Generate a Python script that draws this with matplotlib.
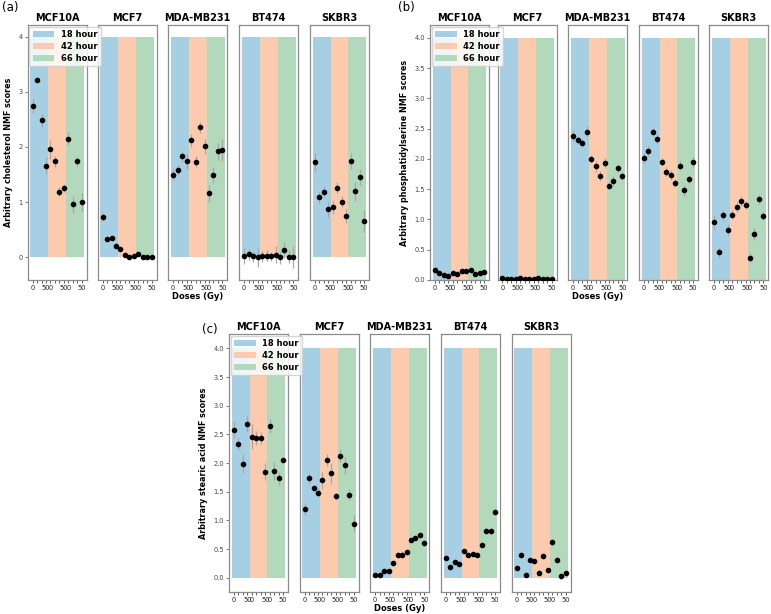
import numpy as np
import matplotlib
matplotlib.use("Agg")
import matplotlib.pyplot as plt

# --- data ---
cell_lines = ["MCF10A", "MCF7", "MDA-MB231", "BT474", "SKBR3"]
time_labels = ["18 hour", "42 hour", "66 hour"]
dose_labels = ["0", "", "", "50"]  # four doses per time point

# (a) cholesterol
chol_mean = [
    [2.75, 3.22, 2.48, 1.66, 1.96, 1.74, 1.19, 1.26, 2.15, 0.96, 1.74, 1.00],
    [0.73, 0.33, 0.36, 0.21, 0.16, 0.05, 0.01, 0.03, 0.06, 0.00, 0.00, 0.00],
    [1.50, 1.58, 1.83, 1.74, 2.12, 1.73, 2.36, 2.01, 1.16, 1.49, 1.92, 1.95],
    [0.03, 0.06, 0.02, 0.00, 0.02, 0.03, 0.02, 0.05, 0.00, 0.13, 0.01, 0.00],
    [1.73, 1.09, 1.19, 0.88, 0.91, 1.26, 1.01, 0.75, 1.75, 1.20, 1.46, 0.66],
]
chol_err = [
    [0.13, 0.05, 0.12, 0.15, 0.17, 0.10, 0.08, 0.07, 0.12, 0.15, 0.08, 0.16],
    [0.07, 0.03, 0.03, 0.03, 0.03, 0.02, 0.02, 0.02, 0.02, 0.01, 0.01, 0.01],
    [0.10, 0.09, 0.10, 0.14, 0.12, 0.10, 0.10, 0.14, 0.15, 0.15, 0.15, 0.20],
    [0.15, 0.10, 0.10, 0.18, 0.10, 0.10, 0.08, 0.15, 0.12, 0.15, 0.12, 0.20],
    [0.17, 0.12, 0.10, 0.15, 0.12, 0.10, 0.10, 0.12, 0.15, 0.17, 0.15, 0.20],
]

# (b) phosphatidylserine
ps_mean = [
    [0.17, 0.12, 0.09, 0.07, 0.11, 0.10, 0.15, 0.15, 0.16, 0.10, 0.12, 0.14],
    [0.03, 0.02, 0.02, 0.02, 0.03, 0.02, 0.02, 0.02, 0.03, 0.02, 0.02, 0.02],
    [2.38, 2.31, 2.26, 2.45, 2.00, 1.88, 1.72, 1.93, 1.56, 1.63, 1.85, 1.72],
    [2.01, 2.13, 2.44, 2.33, 1.95, 1.79, 1.73, 1.60, 1.89, 1.48, 1.66, 1.95],
    [0.95, 0.46, 1.07, 0.83, 1.08, 1.20, 1.30, 1.24, 0.37, 0.76, 1.33, 1.06],
]
ps_err = [
    [0.02, 0.02, 0.02, 0.02, 0.02, 0.02, 0.02, 0.02, 0.02, 0.02, 0.02, 0.02],
    [0.01, 0.01, 0.01, 0.01, 0.01, 0.01, 0.01, 0.01, 0.01, 0.01, 0.01, 0.01],
    [0.09, 0.07, 0.07, 0.09, 0.07, 0.09, 0.08, 0.08, 0.06, 0.08, 0.07, 0.07],
    [0.08, 0.08, 0.07, 0.08, 0.07, 0.08, 0.08, 0.07, 0.08, 0.09, 0.07, 0.08],
    [0.12, 0.09, 0.08, 0.09, 0.08, 0.08, 0.08, 0.07, 0.08, 0.10, 0.08, 0.07],
]

# (c) stearic acid
sa_mean = [
    [2.58, 2.34, 1.99, 2.68, 2.46, 2.43, 2.44, 1.85, 2.64, 1.86, 1.73, 2.06],
    [1.19, 1.73, 1.56, 1.48, 1.70, 2.05, 1.82, 1.42, 2.13, 1.96, 1.45, 0.94],
    [0.05, 0.05, 0.12, 0.12, 0.26, 0.40, 0.40, 0.44, 0.66, 0.70, 0.74, 0.61],
    [0.35, 0.18, 0.28, 0.23, 0.46, 0.40, 0.41, 0.40, 0.57, 0.82, 0.81, 1.14],
    [0.17, 0.40, 0.05, 0.30, 0.29, 0.09, 0.37, 0.13, 0.62, 0.31, 0.03, 0.09],
]
sa_err = [
    [0.15, 0.12, 0.17, 0.14, 0.22, 0.12, 0.10, 0.15, 0.12, 0.15, 0.12, 0.03],
    [0.10, 0.10, 0.06, 0.08, 0.15, 0.10, 0.18, 0.06, 0.12, 0.15, 0.10, 0.15],
    [0.03, 0.03, 0.03, 0.03, 0.03, 0.04, 0.04, 0.04, 0.03, 0.03, 0.04, 0.04],
    [0.04, 0.03, 0.03, 0.03, 0.03, 0.04, 0.04, 0.04, 0.04, 0.04, 0.05, 0.05],
    [0.04, 0.04, 0.04, 0.03, 0.03, 0.04, 0.05, 0.04, 0.06, 0.05, 0.06, 0.05],
]

band_colors = ["#a6cfe4", "#fccbae", "#b3d9bc"]

W, H = 771, 614
fig = plt.figure(figsize=(W / 100, H / 100), dpi=100)


def px_axes(left, top, width, bottom):
    return fig.add_axes([left / W, 1 - bottom / H, width / W, (bottom - top) / H])


def draw_panel(lefts, top, bottom, means, errs, ylabel, ylim, yticks, ytick_fmt,
               letter, letter_xy):
    for i, name in enumerate(cell_lines):
        ax = px_axes(lefts[i], top, 59, bottom)
        x = np.arange(12)
        for k in range(3):
            ax.bar(k * 4 + 1.5, 4, width=4, color=band_colors[k],
                   label=time_labels[k], zorder=0)
        ax.errorbar(x, means[i], yerr=errs[i], fmt="o", color="black",
                    ms=3.0, ecolor="#a8a8a8", elinewidth=0.9, zorder=3)
        ax.set_xlim(-1.1, 12.1)
        ax.set_ylim(*ylim)
        ax.set_xticks(x)
        ax.set_xticklabels(dose_labels * 3)
        ax.tick_params(axis="x", labelsize=4.8, length=2, width=0.5,
                       pad=1.5, colors="#222222")
        ax.set_title(name, fontsize=7, fontweight="bold", pad=3)
        for sp in ax.spines.values():
            sp.set_color("#8c8c8c")
            sp.set_linewidth(0.9)
        if i == 0:
            ax.set_zorder(10)
            ax.set_yticks(yticks)
            ax.set_yticklabels([ytick_fmt.format(t) for t in yticks])
            ax.tick_params(axis="y", labelsize=4.8, length=2, width=0.5,
                           pad=1.5, colors="#444444")
            ax.set_ylabel(ylabel, fontsize=5.8, fontweight="bold", labelpad=4)
            ax.legend(loc="upper left", prop={"size": 6, "weight": "bold"},
                      handlelength=2.6, borderaxespad=0.2,
                      labelspacing=0.35, framealpha=0.8)
        else:
            ax.set_yticks([])
        if i == 2:
            ax.set_xlabel("Doses (Gy)", fontsize=6, fontweight="bold", labelpad=1)
    fig.text(letter_xy[0] / W, 1 - letter_xy[1] / H, letter, fontsize=8.5,
             ha="left", va="center")


draw_panel([27.7, 97.7, 168.3, 239.3, 310], 25, 280, chol_mean, chol_err,
           "Arbitrary cholesterol NMF scores", (-0.41, 4.21), [0, 1, 2, 3, 4],
           "{:.0f}", "(a)", (2, 8))
draw_panel([430, 497.5, 568.3, 639, 709.3], 25, 280, ps_mean, ps_err,
           "Arbitrary phosphatidylserine NMF scores", (0, 4.21),
           [0, 0.5, 1, 1.5, 2, 2.5, 3, 3.5, 4], "{:.1f}", "(b)", (398, 8))
draw_panel([229, 299.7, 370.3, 441, 511.7], 334, 592, sa_mean, sa_err,
           "Arbitrary stearic acid NMF scores", (-0.25, 4.25),
           [0, 0.5, 1, 1.5, 2, 2.5, 3, 3.5, 4], "{:.1f}", "(c)", (202, 329))

fig.savefig("out.png", dpi=100)
